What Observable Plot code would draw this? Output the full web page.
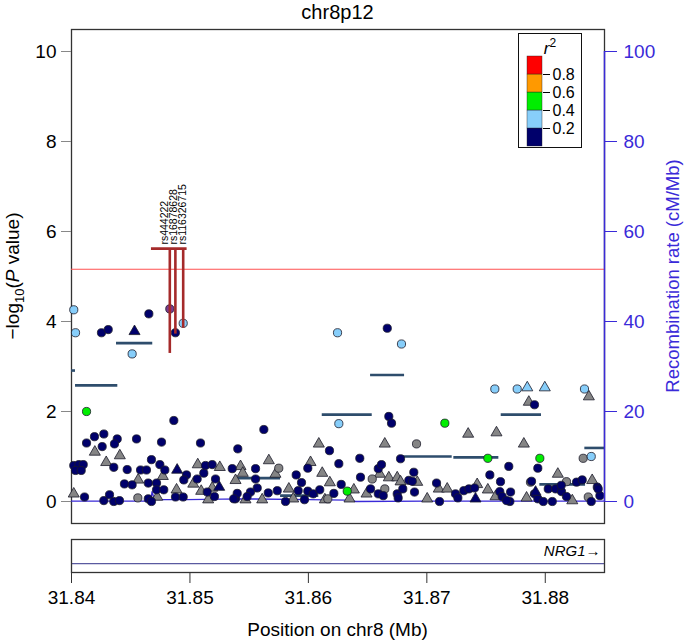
<!DOCTYPE html>
<html><head><meta charset="utf-8">
<script src="https://cdn.jsdelivr.net/npm/d3@7"></script>
<script src="https://cdn.jsdelivr.net/npm/@observablehq/plot@0.6"></script>
<style>
body{margin:0;background:#fff;}
#wrap{position:relative;width:685px;height:641px;font-family:"Liberation Sans",Arial,sans-serif;background:#fff;}
#wrap svg{display:block;}
#legend{position:absolute;left:518px;top:33px;border:1.5px solid #111;background:#fff;}
</style></head><body><div id="wrap"><div id="main"></div><div id="gene"></div><div id="legend"></div></div>
<script>
// ---------- data ----------
const title = "chr8p12";
const xDomain = [31.84, 31.885];
const xTicks = [31.84, 31.85, 31.86, 31.87, 31.88];
const yTicks = [0, 2, 4, 6, 8, 10];
const recombTicks = [0, 20, 40, 60, 80, 100];

// [position (Mb), -log10 P]
const navyCircles = [
[31.84253,3.75],[31.84310,3.82],[31.84653,4.17],[31.84877,3.75],[31.84864,1.80],[31.86666,3.85],
[31.86679,1.89],[31.86702,1.74],[31.85624,1.60],[31.85404,1.17],[31.86178,1.13],[31.87909,2.15],
[31.84194,1.44],[31.84273,1.50],[31.84127,1.30],[31.84259,1.22],[31.84386,1.39],[31.84363,1.28],
[31.84549,1.39],[31.84760,1.32],[31.85089,1.30],[31.84019,0.80],[31.84062,0.82],[31.84099,0.82],
[31.84034,0.69],[31.84082,0.69],[31.84357,0.76],[31.84470,0.71],[31.84583,0.70],[31.84633,0.70],
[31.84675,0.93],[31.84746,0.82],[31.84788,0.70],[31.84648,0.41],[31.84447,0.39],[31.84512,0.37],
[31.84718,0.41],[31.84718,0.26],[31.84779,0.26],[31.84971,0.59],[31.84948,0.48],[31.85061,0.50],
[31.85131,0.80],[31.85188,0.82],[31.85117,0.63],[31.85216,0.50],[31.85146,0.21],[31.85207,0.11],
[31.85357,0.73],[31.84110,0.10],[31.84273,0.02],[31.84321,0.15],[31.84357,0.00],[31.84405,0.02],
[31.84648,0.06],[31.84675,0.00],[31.84878,0.10],[31.84943,0.10],[31.85385,0.06],
[31.85554,0.73],[31.85554,0.50],[31.85897,0.59],[31.85995,0.74],[31.85942,0.42],[31.86257,0.84],
[31.86434,0.96],[31.86590,0.73],[31.86617,0.82],[31.86440,0.54],[31.86778,0.95],[31.86848,0.47],
[31.85568,0.30],[31.85511,0.21],[31.85399,0.18],[31.85483,0.11],[31.85661,0.19],[31.85737,0.24],
[31.85807,0.00],[31.85914,0.24],[31.85967,0.04],[31.85995,0.23],[31.86041,0.17],[31.86096,0.26],
[31.86215,0.18],[31.86277,0.38],[31.86525,0.28],[31.86590,0.17],[31.86632,0.13],[31.86750,0.17],
[31.86758,0.08],[31.86797,0.28],[31.85370,0.06],
[31.86890,0.65],[31.86877,0.45],[31.86896,0.21],[31.87082,0.41],[31.87107,0.00],[31.87242,0.17],
[31.87262,0.08],[31.87312,0.24],[31.87355,0.28],[31.87403,0.30],[31.87532,0.59],[31.87622,0.44],
[31.87692,0.78],[31.87616,0.22],[31.87636,0.11],[31.87707,0.21],[31.87701,0.00],[31.87673,0.02],
[31.87884,0.45],[31.87937,0.74],[31.87909,0.17],[31.87937,0.06],[31.87983,0.00],[31.88025,0.28],
[31.88059,0.00],[31.88087,0.28],[31.88137,0.22],[31.88179,0.11],[31.88135,0.36],[31.88264,0.43],
[31.88312,0.48],[31.88388,0.00],[31.88439,0.32],[31.88461,0.13],[31.88447,0.28]
];
const navyTriangles = [[31.84532,3.78],[31.84892,0.70],[31.85247,0.32],[31.87411,0.06],[31.87918,0.21]];
const greyTriangles = [
[31.84197,1.10],[31.84408,1.02],[31.84293,0.87],[31.84563,0.48],[31.84771,0.56],[31.85066,0.82],
[31.85252,0.76],[31.85028,0.39],[31.85095,0.23],[31.85385,0.47],[31.84019,0.17],[31.84887,0.26],
[31.84724,0.10],[31.85154,0.04],[31.85188,0.30],
[31.86088,1.28],[31.86645,1.28],[31.85666,0.91],[31.86018,0.87],[31.85427,0.78],[31.85446,0.63],
[31.85722,0.61],[31.86117,0.63],[31.86181,0.42],[31.85835,0.28],[31.85469,0.04],[31.85610,0.04],
[31.85872,0.06],[31.86139,0.04],[31.86347,0.06],[31.86384,0.26],[31.86491,0.17],[31.86603,0.61],
[31.86679,0.53],[31.86750,0.53],
[31.87861,2.21],[31.88368,2.33],[31.87349,1.50],[31.87588,1.53],[31.87819,1.28],[31.86778,0.44],
[31.86919,0.43],[31.87003,0.06],[31.87101,0.28],[31.87172,0.28],[31.87425,0.38],[31.87515,0.26],
[31.87580,0.11],[31.87842,0.08],[31.88106,0.61],[31.88228,0.02],[31.88396,0.47]
];
const greyCircles = [[31.84560,0.08],[31.85750,0.74],[31.86539,0.50],[31.86164,0.06],[31.86645,0.28],
[31.86913,1.28],[31.87875,0.43],[31.88179,0.44],[31.88363,0.10],[31.88320,0.96]];
const lightBlueCircles = [[31.84019,4.26],[31.84034,3.75],[31.84512,3.28],[31.84943,3.96],[31.86246,3.75],
[31.86786,3.50],[31.86257,1.73],[31.87574,2.50],[31.87763,2.50],[31.88331,2.50],[31.88388,1.00]];
const lightBlueTriangles = [[31.87848,2.53],[31.87996,2.53]];
const greenCircles = [[31.84127,2.00],[31.86328,0.23],[31.87152,1.74],[31.87515,0.96],[31.87954,0.96]];
const leadSnp = [[31.84830,4.28]];

// horizontal segments [start, end, level]
const segments = [
[31.84000,31.84034,2.91],[31.84034,31.84391,2.58],[31.84380,31.84686,3.52],[31.85385,31.85765,0.52],
[31.85765,31.86088,0.13],[31.86117,31.86539,1.93],[31.86525,31.86812,2.81],[31.86778,31.87214,1.00],
[31.87228,31.87608,0.98],[31.87628,31.87968,1.93],[31.87954,31.88340,0.38],[31.88334,31.88500,1.19]
];

// recombination rate (cM/Mb)
const recombPos  = [31.8400,31.8467,31.8468,31.8470,31.8497,31.8543,31.8600,31.8633,31.8640,31.8700,31.8750,31.8850];
const recombRate = [0.1,    0.1,    2.2,    0.4,    0.4,    0.6,    0.4,    0.3,    0.0,    0.1,    0.1,    0.1];

// annotated SNPs
const snpNames  = ["rs444222","rs16878628","rs116326715"];
const snpPos    = [31.84830, 31.84877, 31.84943];
const snpLabelX = [31.84789, 31.84859, 31.84935];
const snpLow    = [3.29, 3.72, 3.85];
const snpTop    = 5.62;
const snpBar    = [31.84675, 31.84976];
const threshold = 5.16;

// genes
const geneNames = ["NRG1"]; const geneStart = [31.49727]; const geneEnd = [32.62256];

// legend
const r2Breaks = [0, 0.2, 0.4, 0.6, 0.8, 1];
const r2Colors = ["#00006b", "#87cefa", "#00ee00", "#ff9900", "#ff0000"];
const r2Ticks = [0.2, 0.4, 0.6, 0.8];

// ---------- build ----------
const FONT = '"Liberation Sans", Arial, Helvetica, sans-serif';
const FS = 19;
const BLUE = "#3a2ad8";
const pts = a => a.map(([pos, logp]) => ({pos, logp}));
const recomb = recombPos.map((pos, i) => ({pos, rate: recombRate[i]}));
const segs = segments.map(([a, b, y]) => ({a, b, y}));
const snps = snpNames.map((name, i) => ({name, pos: snpPos[i], lx: snpLabelX[i], low: snpLow[i]}));
const genes = geneNames.map((name, i) => ({name, start: geneStart[i], end: geneEnd[i]}));

const circ = (data, fill) => Plot.dot(pts(data), {x: "pos", y: "logp", r: 4.1, fill, stroke: "#1a1a2a", strokeWidth: 0.8});
const tri = (data, fill) => Plot.dot(pts(data), {x: "pos", y: "logp", r: 4.1, symbol: "triangle", fill, stroke: "#1a1a2a", strokeWidth: 0.8});

const main = Plot.plot({
  width: 685, height: 530,
  marginLeft: 71, marginRight: 81, marginTop: 29, marginBottom: 7,
  x: {domain: xDomain, range: [71, 604], axis: null},
  y: {domain: [0, 10], range: [501, 51]},
  style: {fontFamily: FONT, background: "white", color: "black"},
  marks: [
    Plot.frame({stroke: "#333", strokeWidth: 1.3}),
    Plot.line(recomb, {x: "pos", y: d => d.rate / 10, stroke: BLUE, strokeWidth: 1.3}),
    Plot.ruleY([threshold], {stroke: "#ff5050", strokeWidth: 1.1}),
    Plot.ruleY(segs, {x1: "a", x2: "b", y: "y", stroke: "#2e4d6c", strokeWidth: 2.6}),
    tri(greyTriangles, "#858585"),
    circ(greyCircles, "#858585"),
    circ(navyCircles, "#00006b"),
    tri(navyTriangles, "#00006b"),
    circ(lightBlueCircles, "#87cefa"),
    tri(lightBlueTriangles, "#87cefa"),
    circ(greenCircles, "#00ee00"),
    circ(leadSnp, "#7a3a8e"),
    Plot.ruleX(snps, {x: "pos", y1: "low", y2: () => snpTop, stroke: "#a52a2a", strokeWidth: 2.6}),
    Plot.ruleY([snpTop], {x1: snpBar[0], x2: snpBar[1], stroke: "#a52a2a", strokeWidth: 2.6}),
    Plot.text(snps, {x: "lx", y: () => snpTop, text: "name", rotate: -90, textAnchor: "start", lineAnchor: "middle", dy: -4, fontSize: 10.5, fill: "black"}),
    Plot.axisY({anchor: "left", ticks: yTicks, tickSize: 10, tickPadding: 5, stroke: "#888", fill: "black", fontSize: FS, label: null}),
    Plot.ruleX([xDomain[1]], {y1: 0, y2: recombTicks[recombTicks.length - 1] / 10, stroke: BLUE, strokeWidth: 1.5}),
    Plot.axisY({anchor: "right", ticks: recombTicks.map(d => d / 10), tickFormat: d => Math.round(d * 10), tickSize: 12, tickPadding: 7, stroke: BLUE, fill: BLUE, fontSize: FS, label: null})
  ]
});
document.getElementById("main").appendChild(main);

const s = d3.select(main);
s.append("text").attr("x", 337.5).attr("y", 19).attr("text-anchor", "middle")
  .attr("font-size", FS + 1).attr("fill", "black").text(title);
const lt = s.append("text").attr("transform", "translate(19,276) rotate(-90)").attr("text-anchor", "middle")
  .attr("font-size", FS).attr("fill", "black");
lt.append("tspan").text("\u2212log");
lt.append("tspan").attr("font-size", 13).attr("dy", 5).text("10");
lt.append("tspan").attr("dy", -5).text("(");
lt.append("tspan").attr("font-style", "italic").text("P");
lt.append("tspan").text(" value)");
s.append("text").attr("transform", "translate(679,276) rotate(-90)").attr("text-anchor", "middle")
  .attr("font-size", FS - 0.5).attr("fill", BLUE).text("Recombination rate (cM/Mb)");

const gene = Plot.plot({
  width: 685, height: 111,
  marginLeft: 71, marginRight: 81, marginTop: 9, marginBottom: 69,
  x: {domain: xDomain, range: [71, 604]},
  y: {domain: [0, 1], axis: null},
  style: {fontFamily: FONT, background: "white", color: "black"},
  marks: [
    Plot.ruleY(genes, {x1: "start", x2: "end", y: () => 0.27, stroke: "#5a5aa0", strokeWidth: 1.3, clip: true}),
    Plot.text(genes, {text: d => d.name + "\u2192", frameAnchor: "top-right", lineAnchor: "middle", dx: -4, dy: 12, fontStyle: "italic", fontSize: 15, fill: "black"}),
    Plot.frame({stroke: "#333", strokeWidth: 1.3}),
    Plot.axisX({ticks: xTicks, tickFormat: d3.format(".2f"), tickSize: 11, tickPadding: 7, fontSize: FS, stroke: "#333", label: null})
  ]
});
document.getElementById("gene").appendChild(gene);
d3.select(gene).append("text").attr("x", 337.5).attr("y", 106).attr("text-anchor", "middle")
  .attr("font-size", FS).attr("fill", "black").text("Position on chr8 (Mb)");

const bins = r2Colors.map((c, i) => ({lo: r2Breaks[i], hi: r2Breaks[i + 1], color: c}));
const legend = Plot.plot({
  width: 62, height: 113,
  marginLeft: 8, marginRight: 39, marginTop: 22, marginBottom: 1,
  y: {domain: [0, 1]},
  color: {type: "identity"},
  style: {fontFamily: FONT, background: "white", color: "black"},
  marks: [
    Plot.rect(bins, {y1: "lo", y2: "hi", fill: "color", stroke: "#222", strokeWidth: 0.4}),
    Plot.axisY({anchor: "right", ticks: r2Ticks, tickSize: 7, tickPadding: 3, fontSize: 16, label: null})
  ]
});
document.getElementById("legend").appendChild(legend);
const rt = d3.select(legend).append("text").attr("x", 31).attr("y", 20).attr("text-anchor", "middle")
  .attr("font-size", 17).attr("fill", "black");
rt.append("tspan").attr("font-style", "italic").text("r");
rt.append("tspan").attr("font-size", 12).attr("dy", -7).text("2");
</script></body></html>
